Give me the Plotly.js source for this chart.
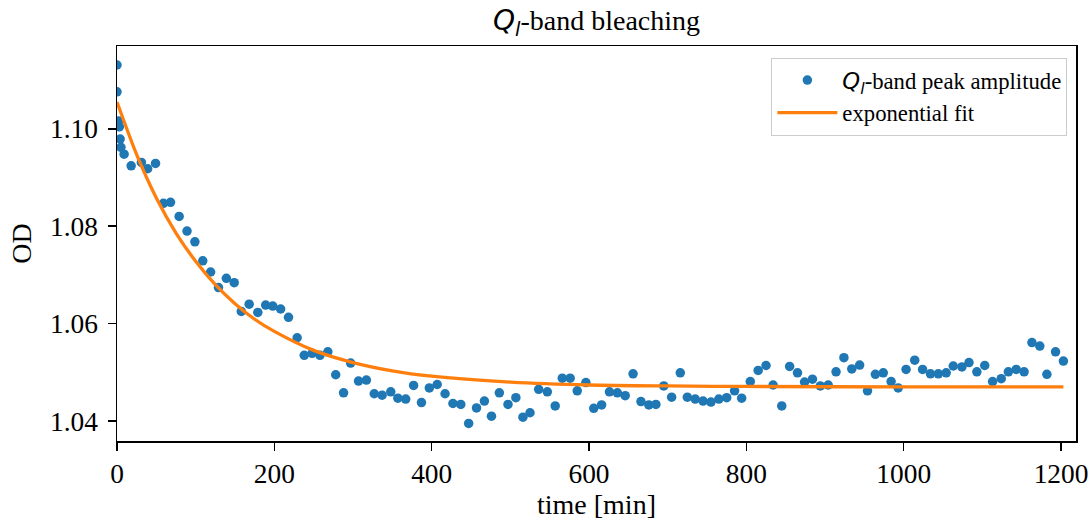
<!DOCTYPE html>
<html>
<head>
<meta charset="utf-8">
<script src="https://cdn.plot.ly/plotly-3.0.1.min.js"></script>
<style>html,body{margin:0;padding:0;background:#fff;}#chart{width:1089px;height:525px;}</style>
</head>
<body>
<div id="chart"></div>
<script>
const timeMin = [0,0,2,3,4,5,9,18,31,39,49,59,68,79,89,99,109,119,129,139,149,158,168,179,189,198,208,218,229,238,248,258,268,278,288,297,307,317,327,337,348,357,367,377,387,397,407,417,427,437,447,457,467,476,486,497,507,516,525,536,547,557,566,576,585,596,606,616,626,636,646,656,666,676,685,695,705,716,725,735,745,755,765,775,785,794,805,815,825,834,845,855,865,874,884,894,904,914,924,934,944,954,964,974,984,993,1003,1014,1024,1034,1044,1054,1063,1074,1083,1093,1103,1113,1124,1133,1143,1153,1163,1173,1182,1193,1203];
const peakOD = [1.1131,1.1076,1.1016,1.1004,1.0979,1.0962,1.0948,1.0924,1.0931,1.0918,
1.0929,1.0847,1.0849,1.0820,1.0790,1.0768,1.0729,1.0706,1.0674,1.0693,
1.0684,1.0625,1.0640,1.0623,1.0638,1.0636,1.0630,1.0613,1.0571,1.0535,
1.0539,1.0535,1.0542,1.0495,1.0458,1.0519,1.0482,1.0484,1.0456,1.0453,
1.0460,1.0447,1.0445,1.0473,1.0438,1.0468,1.0475,1.0456,1.0436,1.0434,
1.0395,1.0427,1.0441,1.0410,1.0458,1.0434,1.0448,1.0408,1.0417,1.0465,
1.0460,1.0431,1.0488,1.0488,1.0462,1.0479,1.0426,1.0433,1.0460,1.0458,
1.0452,1.0497,1.0440,1.0433,1.0434,1.0472,1.0449,1.0499,1.0449,1.0445,
1.0441,1.0439,1.0445,1.0448,1.0462,1.0447,1.0481,1.0504,1.0514,1.0474,
1.0431,1.0512,1.0499,1.0480,1.0486,1.0472,1.0474,1.0501,1.0530,1.0507,
1.0515,1.0462,1.0496,1.0499,1.0481,1.0468,1.0506,1.0525,1.0506,1.0497,
1.0497,1.0499,1.0513,1.0511,1.0520,1.0501,1.0514,1.0481,1.0487,1.0501,
1.0506,1.0501,1.0561,1.0554,1.0496,1.0542,1.0523];
const fitTime = [0,25,50,75,100,125,150,175,200,250,300,350,400,500,600,700,800,1000,1203];
const fitOD = [1.1055,1.0947,1.0858,1.0786,1.0728,1.0680,1.0641,1.0609,1.0584,1.0545,1.0520,1.0503,1.0492,1.0480,1.0474,1.0472,1.0471,1.0470,1.0470];
const xTicks = [0,200,400,600,800,1000,1200];
const yTicks = [1.04,1.06,1.08,1.10];
const yTickText = ['1.04','1.06','1.08','1.10'];

const qlLabel = '<span style="font-family:\'DejaVu Sans\'"><i>Q</i><sub><i>l</i></sub></span>';
const serif = 'Liberation Serif, Times New Roman, serif';

const traces = [
  {x: timeMin, y: peakOD, type: 'scatter', mode: 'markers',
   name: qlLabel + '-band peak amplitude',
   marker: {color: '#1f77b4', size: 9.5}},
  {x: fitTime, y: fitOD, type: 'scatter', mode: 'lines',
   name: 'exponential fit',
   line: {color: '#ff7f0e', width: 3.3, shape: 'spline', smoothing: 0.8}}
];

const axisCommon = {
  showgrid: false, zeroline: false, showline: true, linecolor: '#000', linewidth: 1.5,
  mirror: true, ticks: 'outside', ticklen: 8, tickwidth: 1.5, tickcolor: '#000',
  automargin: false,
  tickfont: {family: serif, size: 27.4, color: '#000'}
};

const layout = {
  width: 1089, height: 525,
  paper_bgcolor: '#fff', plot_bgcolor: '#fff',
  margin: {l: 117, r: 13, t: 46, b: 84},
  title: {text: qlLabel + '-band bleaching', font: {family: serif, size: 28, color: '#000'},
          xref: 'paper', x: 0.5, xanchor: 'center', y: 0.962, yanchor: 'middle'},
  xaxis: Object.assign({}, axisCommon, {
    range: [0, 1219], tickvals: xTicks, ticktext: xTicks.map(String),
    ticklabelstandoff: 0,
    title: {text: 'time [min]', font: {family: serif, size: 28, color: '#000'}, standoff: 4}
  }),
  yaxis: Object.assign({}, axisCommon, {
    range: [1.0359, 1.1170], tickvals: yTicks, ticktext: yTickText,
    ticklabelstandoff: 4,
    title: {text: 'OD', font: {family: serif, size: 28, color: '#000'}, standoff: 10}
  }),
  showlegend: true,
  legend: {x: 0.991, xanchor: 'right', y: 0.97, yanchor: 'top',
           bgcolor: 'rgba(255,255,255,0.8)', bordercolor: '#cccccc', borderwidth: 1,
           font: {family: serif, size: 22.7, color: '#000'}, tracegroupgap: 0, itemwidth: 60}
};

Plotly.newPlot('chart', traces, layout, {displayModeBar: false, staticPlot: true});
</script>
</body>
</html>
